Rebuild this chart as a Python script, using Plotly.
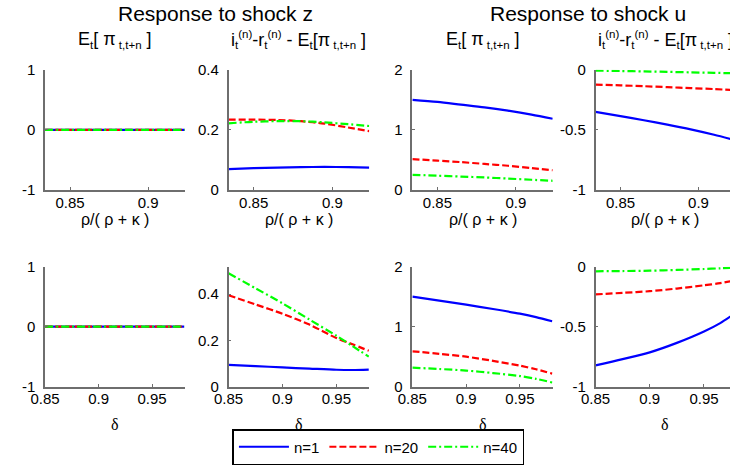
import plotly.graph_objects as go

# ---------------- data ----------------
series_names = ["n=1", "n=20", "n=40"]
series_colors = ["#0000ff", "#ff0000", "#00ff00"]
series_dash = ["solid", "7px,3px", "8px,3px,2px,3px"]

# top row: x = rho/(rho+kappa)
x_rho = [0.834, 0.85, 0.865, 0.88, 0.895, 0.91, 0.9235]
# bottom row: x = delta
x_delta = [0.85, 0.875, 0.9, 0.925, 0.95, 0.965, 0.98]

# Response to shock z : E_t[pi]
z_E_rho = [[0, 0, 0, 0, 0, 0, 0]] * 3
z_E_delta = [[0, 0, 0, 0, 0, 0, 0]] * 3
# Response to shock z : i - r - E[pi]
z_spread_rho = [
    [0.070, 0.073, 0.075, 0.0765, 0.077, 0.0765, 0.075],
    [0.234, 0.234, 0.233, 0.229, 0.221, 0.208, 0.196],
    [0.222, 0.227, 0.229, 0.229, 0.225, 0.219, 0.213],
]
z_spread_delta = [
    [0.094, 0.089, 0.083, 0.078, 0.073, 0.072, 0.074],
    [0.395, 0.355, 0.315, 0.268, 0.210, 0.183, 0.155],
    [0.490, 0.425, 0.360, 0.290, 0.220, 0.175, 0.130],
]
# Response to shock u : E_t[pi]
u_E_rho = [
    [1.50, 1.465, 1.42, 1.375, 1.32, 1.255, 1.185],
    [0.515, 0.49, 0.465, 0.435, 0.405, 0.365, 0.33],
    [0.255, 0.24, 0.225, 0.21, 0.192, 0.172, 0.155],
]
u_E_delta = [
    [1.50, 1.435, 1.367, 1.295, 1.217, 1.16, 1.09],
    [0.59, 0.548, 0.50, 0.43, 0.35, 0.29, 0.218],
    [0.317, 0.295, 0.268, 0.227, 0.177, 0.13, 0.07],
]
# Response to shock u : i - r - E[pi]
u_spread_rho = [
    [-0.35, -0.385, -0.42, -0.456, -0.495, -0.54, -0.585],
    [-0.124, -0.13, -0.137, -0.145, -0.153, -0.161, -0.17],
    [-0.008, -0.011, -0.014, -0.018, -0.022, -0.026, -0.03],
]
u_spread_delta = [
    [-0.822, -0.77, -0.714, -0.635, -0.54, -0.47, -0.38],
    [-0.231, -0.218, -0.204, -0.182, -0.155, -0.137, -0.112],
    [-0.038, -0.036, -0.033, -0.027, -0.019, -0.013, -0.006],
]

# tick labels
x_rho_ticks = [0.85, 0.9]
x_rho_ticktext = ["0.85", "0.9"]
x_delta_ticks = [0.85, 0.9, 0.95]
x_delta_ticktext = ["0.85", "0.9", "0.95"]
yt_pm1 = ([-1, 0, 1], ["-1", "0", "1"])
yt_04 = ([0, 0.2, 0.4], ["0", "0.2", "0.4"])
yt_02 = ([0, 1, 2], ["0", "1", "2"])
yt_m10 = ([-1, -0.5, 0], ["-1", "-0.5", "0"])


def sb(t):
    return '<sub><span style="font-size:11.5px">' + t + '</span></sub>'


def sp(t):
    return '<sup><span style="font-size:11.5px">' + t + '</span></sup>'


main_titles = ["Response to shock z", "Response to shock u"]
sub_title_E = "E" + sb("t") + "[ π" + sb(" t,t+n") + " ]"
sub_title_S = ("i" + sb("t") + sp("(n)") + "-r" + sb("t") + sp("(n)") +
               " - E" + sb("t") + "[π" + sb(" t,t+n") + " ]")
xlabel_rho = "ρ/( ρ + κ )"
xlabel_delta = "δ"

# ---------------- layout geometry ----------------
W, H = 730, 465
col_px = [(30.7, 173.3), (218.0, 361.7), (405.7, 549.0), (592.7, 730.0)]
row_px = [(63.0, 188.0), (267.5, 392.0)]  # top, bottom (pixels from top)

FONT = "Liberation Sans, Arial, sans-serif"
AXC = "#6e6e6e"

fig = go.Figure()

panels = [
    (0, 0, x_rho, z_E_rho, [0.834, 0.9235], [-1, 1], yt_pm1),
    (0, 1, x_rho, z_spread_rho, [0.834, 0.9235], [0, 0.4], yt_04),
    (0, 2, x_rho, u_E_rho, [0.834, 0.9235], [0, 2], yt_02),
    (0, 3, x_rho, u_spread_rho, [0.834, 0.9202], [-1, 0], yt_m10),
    (1, 0, x_delta, z_E_delta, [0.85, 0.9805], [-1, 1], yt_pm1),
    (1, 1, x_delta, z_spread_delta, [0.85, 0.9805], [0, 0.518], yt_04),
    (1, 2, x_delta, u_E_delta, [0.85, 0.9805], [0, 2], yt_02),
    (1, 3, x_delta, u_spread_delta, [0.85, 0.974], [-1, 0], yt_m10),
]

for i, (r, c, xs, ys, xr, yr, yt) in enumerate(panels):
    k = i + 1
    xa = "x" if k == 1 else f"x{k}"
    ya = "y" if k == 1 else f"y{k}"
    for s in range(3):
        fig.add_trace(go.Scatter(
            x=xs, y=ys[s], mode="lines", xaxis=xa, yaxis=ya,
            name=series_names[s], showlegend=(k == 1),
            line=dict(color=series_colors[s], width=2.2, dash=series_dash[s],
                      shape="spline", smoothing=0.8),
            hoverinfo="skip",
        ))
    x0, x1 = col_px[c]
    yt0, yb0 = row_px[r]
    xk = "xaxis" if k == 1 else f"xaxis{k}"
    yk = "yaxis" if k == 1 else f"yaxis{k}"
    if r == 0:
        xtv, xtt = x_rho_ticks, x_rho_ticktext
    else:
        xtv, xtt = x_delta_ticks, x_delta_ticktext
    fig.layout[xk] = dict(
        domain=[x0 / W, x1 / W], range=xr, anchor=ya,
        showline=True, linecolor=AXC, linewidth=1.5, mirror=False,
        showgrid=False, zeroline=False,
        ticks="inside", ticklen=3, tickcolor=AXC, tickwidth=1,
        tickvals=xtv, ticktext=xtt,
        tickfont=dict(family=FONT, size=15, color="black"),
        ticklabelstandoff=-2,
    )
    fig.layout[yk] = dict(
        domain=[1 - yb0 / H, 1 - yt0 / H], range=yr, anchor=xa,
        showline=True, linecolor=AXC, linewidth=1.5, mirror=False,
        showgrid=False, zeroline=False,
        ticks="inside", ticklen=3, tickcolor=AXC, tickwidth=1,
        tickvals=yt[0], ticktext=yt[1],
        tickfont=dict(family=FONT, size=15, color="black"),
        ticklabelstandoff=5,
    )

annotations = []
# main titles
for txt, xc in zip(main_titles, [205, 585]):
    annotations.append(dict(text=txt, x=xc / W, y=1 - 5 / H, xref="paper", yref="paper",
                            xanchor="center", yanchor="middle", showarrow=False,
                            font=dict(family=FONT, size=21, color="black")))
# subplot titles (top row only)
for c in range(4):
    x0, x1 = col_px[c]
    if c == 3:
        x1 = x0 + 142.6
    txt = sub_title_E if c % 2 == 0 else sub_title_S
    annotations.append(dict(text=txt, x=(x0 + x1) / 2 / W, y=1 - 32 / H, xref="paper", yref="paper",
                            xanchor="center", yanchor="middle", showarrow=False,
                            font=dict(family=FONT, size=18, color="black")))
# x-axis titles
for r in range(2):
    for c in range(4):
        x0, x1 = col_px[c]
        if c == 3:
            x1 = x0 + 142.6
        if r == 0:
            txt, yc = xlabel_rho, 219
            fam = FONT
        else:
            txt, yc = xlabel_delta, 431
            fam = "Liberation Serif, Times New Roman, serif"
        annotations.append(dict(text=txt, x=(x0 + x1) / 2 / W, y=1 - yc / H, xref="paper", yref="paper",
                                xanchor="center", yanchor="middle", showarrow=False,
                                font=dict(family=fam, size=16, color="black")))

fig.update_layout(
    width=W, height=H,
    margin=dict(l=0, r=0, t=0, b=0),
    paper_bgcolor="white", plot_bgcolor="white",
    annotations=annotations,
    showlegend=True,
    legend=dict(
        orientation="h", x=222 / W, y=1 - 436 / H, xanchor="left", yanchor="top",
        bordercolor="black", borderwidth=1.5, bgcolor="white",
        font=dict(family=FONT, size=15, color="black"),
        itemwidth=50, tracegroupgap=0,
    ),
    font=dict(family=FONT),
)

fig.write_html("out.html")
